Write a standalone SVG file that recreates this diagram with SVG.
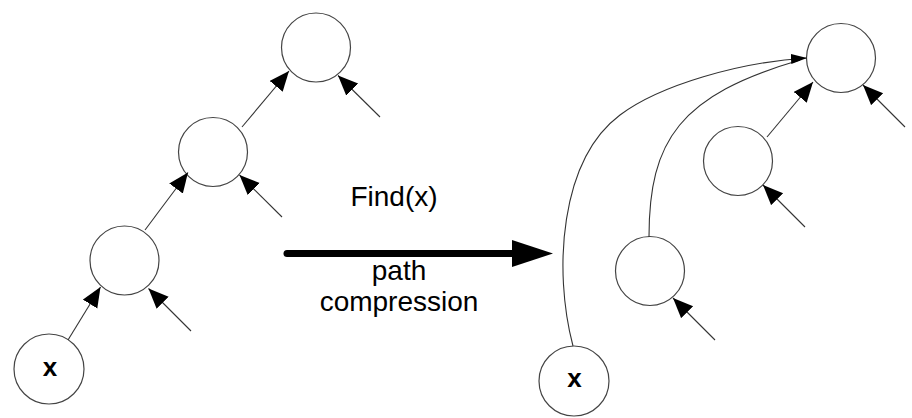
<svg xmlns="http://www.w3.org/2000/svg" width="912" height="418" viewBox="0 0 912 418">
  <defs>
    <marker id="head" markerUnits="userSpaceOnUse" markerWidth="21" markerHeight="18" refX="20" refY="8.5" orient="auto">
      <path d="M0,0 L20,8.5 L0,17 z" fill="#000"/>
    </marker>
    <marker id="head-small" markerUnits="userSpaceOnUse" markerWidth="17" markerHeight="11" refX="16" refY="5" orient="auto">
      <path d="M0,0 L16,5 L0,10 z" fill="#000"/>
    </marker>
  </defs>
  <style>
    .node circle { fill: #fff; stroke: #444; stroke-width: 1.2; }
    .node text { font-family: "Liberation Sans", Arial, sans-serif; font-weight: bold; font-size: 26px; fill: #000; text-anchor: middle; }
    .edge { fill: none; stroke: #333; stroke-width: 1.1; marker-end: url(#head); }
    .curve { fill: none; stroke: #333; stroke-width: 1.1; }
    .label { font-family: "Liberation Sans", Arial, sans-serif; font-size: 28px; fill: #000; text-anchor: middle; }
  </style>

  <rect width="912" height="418" fill="#fff"/>

  <!-- left tree: before Find(x) -->
  <g id="left-a" class="node"><circle cx="316" cy="47.5" r="34.5"/></g>
  <g id="left-b" class="node"><circle cx="213" cy="152" r="34.5"/></g>
  <g id="left-c" class="node"><circle cx="124.5" cy="260.5" r="34.5"/></g>
  <g id="left-x" class="node"><circle cx="49" cy="369" r="35"/><text x="50" y="375.5">x</text></g>

  <!-- right tree: after path compression -->
  <g id="right-a" class="node"><circle cx="841" cy="58" r="34.5"/></g>
  <g id="right-b" class="node"><circle cx="738" cy="161" r="34.5"/></g>
  <g id="right-c" class="node"><circle cx="650" cy="271" r="34.5"/></g>
  <g id="right-x" class="node"><circle cx="574" cy="381" r="35"/><text x="574.5" y="387">x</text></g>

  <g id="connectors">
    <!-- left parent pointers -->
    <path class="edge" d="M68,340 L100.5,287"/>
    <path class="edge" d="M145,230 L188,172.5"/>
    <path class="edge" d="M242,127 L289,71"/>
    <!-- left incoming pointers from other children -->
    <path class="edge" d="M380,117 L338,75.5"/>
    <path class="edge" d="M282,217 L239.5,175"/>
    <path class="edge" d="M191,331 L148.5,288.5"/>

    <!-- right parent pointers -->
    <path class="edge" d="M767,137 L813,82"/>
    <path class="edge" d="M905,127 L863,85"/>
    <path class="edge" d="M805,227 L763,185"/>
    <path class="edge" d="M715,340 L673,298"/>
    <!-- compressed links straight to the root -->
    <path class="curve" d="M649,237 C649,140 680,95 800,60"/>
    <path class="curve" d="M573,346 C553,270 560,160 620,115 C660,85 740,62 807,58" marker-end="url(#head-small)"/>

    <!-- transformation arrow -->
    <g id="find-arrow">
      <line x1="287" y1="253.5" x2="515" y2="253.5" stroke="#000" stroke-width="7" stroke-linecap="round"/>
      <polygon points="512,240 553,253.5 512,267" fill="#000"/>
    </g>
  </g>

  <text class="label" x="394" y="206">Find(x)</text>
  <text class="label" x="399" y="280">path</text>
  <text class="label" x="399" y="311">compression</text>
</svg>
